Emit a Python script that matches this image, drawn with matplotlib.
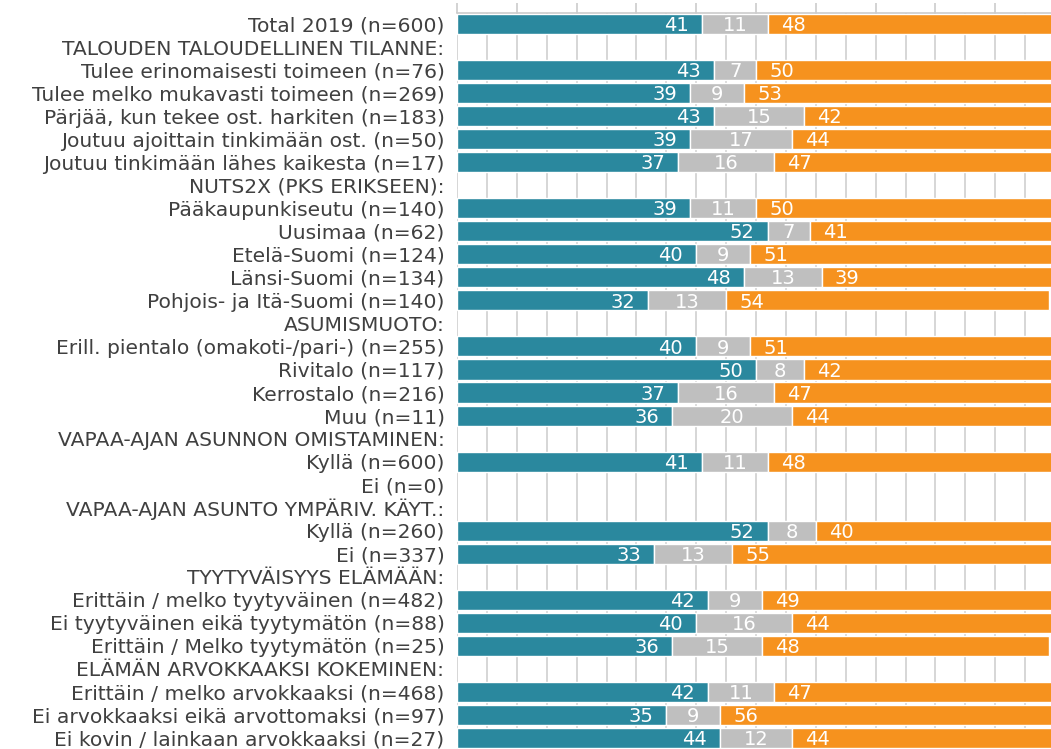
import matplotlib
matplotlib.use('Agg')
import matplotlib.pyplot as plt
import numpy as np

labels = [
    "Total 2019 (n=600)",
    "TALOUDEN TALOUDELLINEN TILANNE:",
    "Tulee erinomaisesti toimeen (n=76)",
    "Tulee melko mukavasti toimeen (n=269)",
    "Pärjää, kun tekee ost. harkiten (n=183)",
    "Joutuu ajoittain tinkimään ost. (n=50)",
    "Joutuu tinkimään lähes kaikesta (n=17)",
    "NUTS2X (PKS ERIKSEEN):",
    "Pääkaupunkiseutu (n=140)",
    "Uusimaa (n=62)",
    "Etelä-Suomi (n=124)",
    "Länsi-Suomi (n=134)",
    "Pohjois- ja Itä-Suomi (n=140)",
    "ASUMISMUOTO:",
    "Erill. pientalo (omakoti-/pari-) (n=255)",
    "Rivitalo (n=117)",
    "Kerrostalo (n=216)",
    "Muu (n=11)",
    "VAPAA-AJAN ASUNNON OMISTAMINEN:",
    "Kyllä (n=600)",
    "Ei (n=0)",
    "VAPAA-AJAN ASUNTO YMPÄRIV. KÄYT.:",
    "Kyllä (n=260)",
    "Ei (n=337)",
    "TYYTYVÄISYYS ELÄMÄÄN:",
    "Erittäin / melko tyytyväinen (n=482)",
    "Ei tyytyväinen eikä tyytymätön (n=88)",
    "Erittäin / Melko tyytymätön (n=25)",
    "ELÄMÄN ARVOKKAAKSI KOKEMINEN:",
    "Erittäin / melko arvokkaaksi (n=468)",
    "Ei arvokkaaksi eikä arvottomaksi (n=97)",
    "Ei kovin / lainkaan arvokkaaksi (n=27)",
]

series1 = [41, None, 43, 39, 43, 39, 37, None, 39, 52, 40, 48, 32, None, 40, 50, 37, 36,
           None, 41, None, None, 52, 33, None, 42, 40, 36, None, 42, 35, 44]
series2 = [11, None, 7, 9, 15, 17, 16, None, 11, 7, 9, 13, 13, None, 9, 8, 16, 20,
           None, 11, None, None, 8, 13, None, 9, 16, 15, None, 11, 9, 12]
series3 = [48, None, 50, 53, 42, 44, 47, None, 50, 41, 51, 39, 54, None, 51, 42, 47, 44,
           None, 48, None, None, 40, 55, None, 49, 44, 48, None, 47, 56, 44]

teal = '#2a889e'
grey = '#bfbfbf'
orange = '#f6921e'

W, H = 1051, 749
fig = plt.figure(figsize=(W / 100, H / 100), dpi=100)
ax = fig.add_axes([457 / W, -0.5 / H, 598 / W, (749.5 - 12.5) / H])

n = len(labels)
ys = np.arange(n)
idx = [i for i in range(n) if series1[i] is not None]
yv = np.array([ys[i] for i in idx])
a = np.array([series1[i] for i in idx], dtype=float)
b = np.array([series2[i] for i in idx], dtype=float)
c = np.array([series3[i] for i in idx], dtype=float)

bh = 0.87
ax.barh(yv, a, left=0, height=bh, color=teal, edgecolor='white', linewidth=1.0, zorder=2)
ax.barh(yv, b, left=a, height=bh, color=grey, edgecolor='white', linewidth=1.0, zorder=2)
ax.barh(yv, c, left=a + b, height=bh, color=orange, edgecolor='white', linewidth=1.0, zorder=2)

fs = 14
for y, va_, vb_, vc_ in zip(yv, a, b, c):
    ax.text(va_ - 2.2, y + 0.07, f"{int(va_)}", ha='right', va='center', color='white', fontsize=fs, zorder=3)
    ax.text(va_ + vb_ / 2, y + 0.07, f"{int(vb_)}", ha='center', va='center', color='white', fontsize=fs, zorder=3)
    ax.text(va_ + vb_ + 2.2, y + 0.07, f"{int(vc_)}", ha='left', va='center', color='white', fontsize=fs, zorder=3)

ax.set_xlim(0, 100)
ax.set_ylim(n - 0.5, -0.5)
ax.set_yticks(ys)
ax.set_yticklabels(labels, fontsize=14.6, color='#404040')
ax.tick_params(axis='y', length=0, pad=9)

ax.xaxis.tick_top()
ax.set_xticks(np.arange(0, 101, 10))
ax.set_xticks(np.arange(0, 101, 5), minor=True)
ax.tick_params(axis='x', which='major', direction='out', length=7, width=1.2, color='#cccccc', labeltop=False, labelbottom=False)
ax.tick_params(axis='x', which='minor', length=0, labeltop=False, labelbottom=False)
ax.grid(axis='x', which='both', color='#d6d6d6', linewidth=1.4, zorder=0)
ax.set_axisbelow(True)

for s in ['left', 'right', 'bottom']:
    ax.spines[s].set_visible(False)
ax.spines['top'].set_color('#cccccc')
ax.spines['top'].set_linewidth(1.2)

fig.savefig('out.png', dpi=100)
